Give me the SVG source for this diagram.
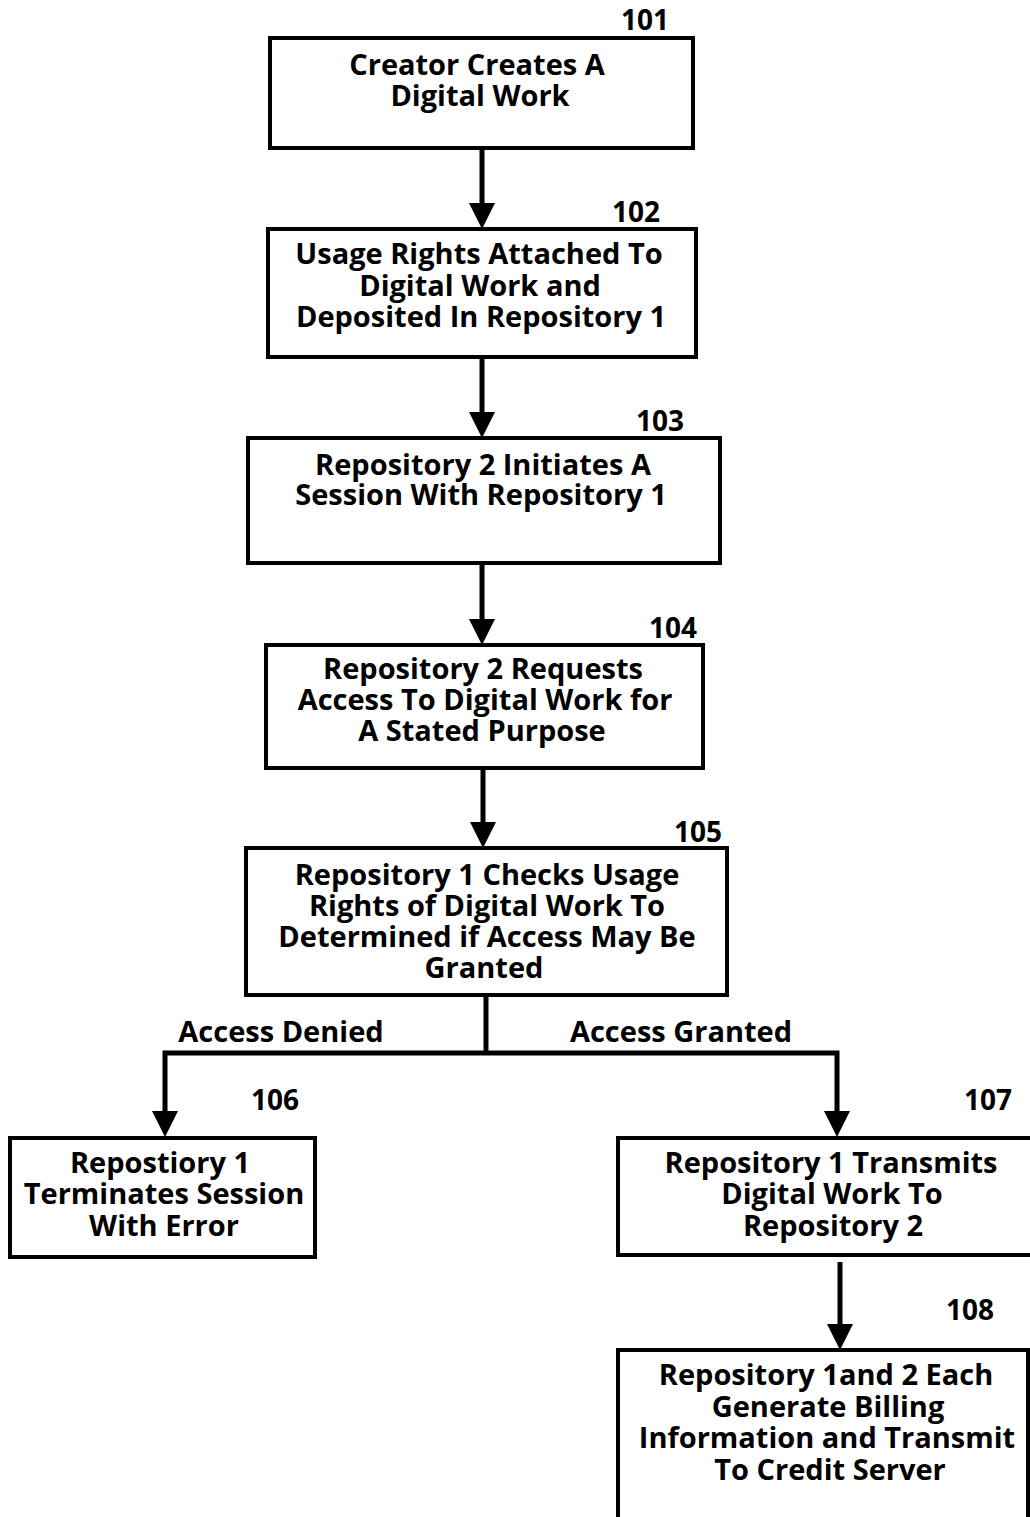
<svg xmlns="http://www.w3.org/2000/svg" width="1030" height="1517" viewBox="0 0 1030 1517">
<defs>
<style>
.box{fill:#fff;stroke:#000;stroke-width:4}
.t{font-family:"Open Sans","Liberation Sans",sans-serif;font-weight:700;font-size:29px;text-anchor:middle;fill:#000}
.n{font-family:"Open Sans","Liberation Sans",sans-serif;font-weight:700;font-size:28px;text-anchor:middle;fill:#000}
.c{stroke:#000;stroke-width:5;fill:none}
.ah{fill:#000}
</style>
</defs>
<rect width="1030" height="1517" fill="#fff"/>
<g id="connectors">
<line class="c" x1="482" y1="148" x2="482" y2="205"/>
<path class="ah" d="M469,203 L495,203 L482,229 Z"/>
<line class="c" x1="482" y1="357" x2="482" y2="414"/>
<path class="ah" d="M469,412 L495,412 L482,438 Z"/>
<line class="c" x1="482" y1="563" x2="482" y2="621"/>
<path class="ah" d="M469,619 L495,619 L482,645 Z"/>
<line class="c" x1="483" y1="768" x2="483" y2="824"/>
<path class="ah" d="M470,822 L496,822 L483,848 Z"/>
<polyline class="c" points="486,995 486,1053"/>
<polyline class="c" points="165,1113 165,1053 837,1053 837,1113"/>
<path class="ah" d="M152,1111 L178,1111 L165,1137 Z"/>
<path class="ah" d="M824,1111 L850,1111 L837,1137 Z"/>
<line class="c" x1="840" y1="1262" x2="840" y2="1326"/>
<path class="ah" d="M827,1324 L853,1324 L840,1350 Z"/>
<text class="t" x="281" y="1042">Access Denied</text>
<text class="t" x="681" y="1042">Access Granted</text>
</g>
<g id="n101">
<rect class="box" x="270" y="38" width="423" height="110"/>
<text class="n" x="645" y="30">101</text>
<text class="t" x="477" y="75">Creator Creates A</text>
<text class="t" x="480" y="106">Digital Work</text>
</g>
<g id="n102">
<rect class="box" x="268" y="229" width="428" height="128"/>
<text class="n" x="636" y="222">102</text>
<text class="t" x="479" y="264">Usage Rights Attached To</text>
<text class="t" x="480" y="296">Digital Work and</text>
<text class="t" x="481" y="327">Deposited In Repository 1</text>
</g>
<g id="n103">
<rect class="box" x="248" y="438" width="472" height="125"/>
<text class="n" x="660" y="431">103</text>
<text class="t" x="483" y="475">Repository 2 Initiates A</text>
<text class="t" x="481" y="505">Session With Repository 1</text>
</g>
<g id="n104">
<rect class="box" x="266" y="645" width="437" height="123"/>
<text class="n" x="673" y="638">104</text>
<text class="t" x="483" y="679">Repository 2 Requests</text>
<text class="t" x="485" y="710">Access To Digital Work for</text>
<text class="t" x="482" y="741">A Stated Purpose</text>
</g>
<g id="n105">
<rect class="box" x="246" y="848" width="481" height="147"/>
<text class="n" x="698" y="842">105</text>
<text class="t" x="487" y="885">Repository 1 Checks Usage</text>
<text class="t" x="487" y="916">Rights of Digital Work To</text>
<text class="t" x="487" y="947">Determined if Access May Be</text>
<text class="t" x="484" y="978">Granted</text>
</g>
<g id="n106">
<rect class="box" x="10" y="1138" width="305" height="119"/>
<text class="n" x="275" y="1110">106</text>
<text class="t" x="160" y="1173">Repostiory 1</text>
<text class="t" x="164" y="1204">Terminates Session</text>
<text class="t" x="164" y="1236">With Error</text>
</g>
<g id="n107">
<rect class="box" x="618" y="1138" width="416" height="117"/>
<text class="n" x="988" y="1110">107</text>
<text class="t" x="831" y="1173">Repository 1 Transmits</text>
<text class="t" x="832" y="1204">Digital Work To</text>
<text class="t" x="833" y="1236">Repository 2</text>
</g>
<g id="n108">
<rect class="box" x="618" y="1350" width="410" height="180"/>
<text class="n" x="970" y="1320">108</text>
<text class="t" x="826" y="1385">Repository 1and 2 Each</text>
<text class="t" x="828" y="1417">Generate Billing</text>
<text class="t" x="827" y="1448">Information and Transmit</text>
<text class="t" x="830" y="1480">To Credit Server</text>
</g>
</svg>
